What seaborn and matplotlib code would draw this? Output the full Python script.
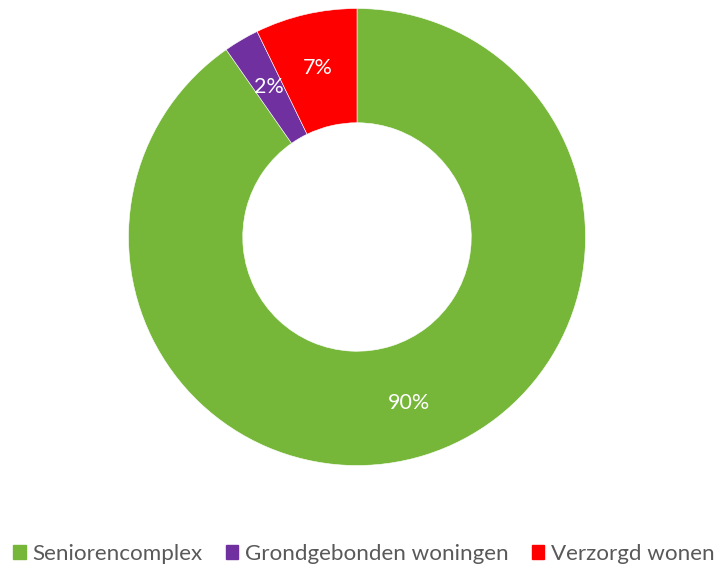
import matplotlib
matplotlib.use("Agg")
import matplotlib.pyplot as plt
import matplotlib.patches as mpatches
import seaborn as sns

categories = ['Seniorencomplex', 'Grondgebonden woningen', 'Verzorgd wonen']
shares = [90.3, 2.5, 7.2]
colors = ['#76B73A', '#7030A0', '#FF0000']

sns.set_theme(style="white")
plt.rcParams['font.family'] = ['Lato', 'DejaVu Sans']

fig = plt.figure(figsize=(7.14, 5.65), dpi=100)
# center at (357, 237) px, radius ~228 px
r = 228.5
ax = fig.add_axes([(357 - r) / 714, (565 - 237 - r) / 565, 2 * r / 714, 2 * r / 565])

wedges, texts, autotexts = ax.pie(
    shares, colors=colors, startangle=90, counterclock=False,
    radius=1, autopct='%1.0f%%', pctdistance=0.76,
    wedgeprops=dict(width=0.5, edgecolor='white', linewidth=0.4),
    textprops=dict(color='white', fontsize=15.5))
ax.set_xlim(-1, 1)
ax.set_ylim(-1, 1)
ax.set_aspect('equal')
ax.axis('off')

handles = [mpatches.Patch(color=c, label=l) for c, l in zip(colors, categories)]
fig.legend(handles=handles, loc='center', bbox_to_anchor=(364 / 714, 1 - 554 / 565),
           ncol=3, frameon=False, fontsize=16.1, labelcolor='#595959',
           handlelength=0.55, handleheight=0.55, handletextpad=0.3,
           columnspacing=1.05, borderaxespad=0, borderpad=0)

fig.savefig('out.png', dpi=100)
plt.close(fig)
